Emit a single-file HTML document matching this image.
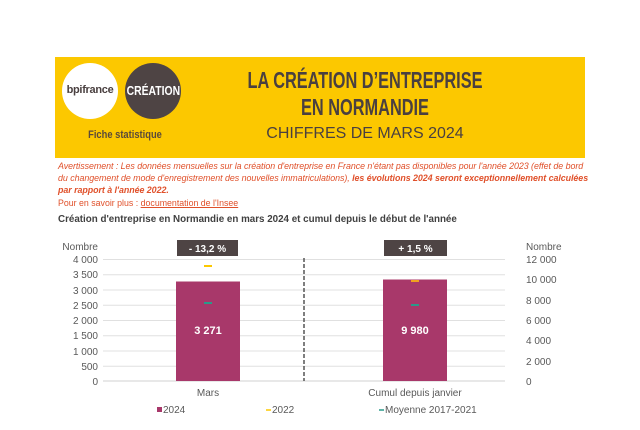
<!DOCTYPE html>
<html><head><meta charset="utf-8"><style>
body{margin:0;width:640px;height:430px;background:#fff;font-family:"Liberation Sans",sans-serif;position:relative;overflow:hidden}
.a{position:absolute;white-space:nowrap}
.cond{font-family:"Liberation Sans Narrow","Liberation Sans",sans-serif;font-weight:bold;transform-origin:center}
</style></head><body>
<div class="a" style="left:55px;top:57px;width:530px;height:101px;background:#fcc800"></div>
<div class="a" style="left:62px;top:63px;width:56px;height:56px;border-radius:50%;background:#fff"></div>
<div class="a" style="left:62px;top:84px;width:56px;text-align:center;font-size:11px;font-weight:bold;color:#4a4040;letter-spacing:-0.3px">bpifrance</div>
<div class="a" style="left:125px;top:63px;width:56px;height:56px;border-radius:50%;background:#4e4444"></div>
<div class="a cond" style="left:120px;top:83px;width:66px;text-align:center;font-size:13px;color:#fff;transform:scaleX(0.8)">CRÉATION</div>
<div class="a cond" style="left:70px;top:129px;width:110px;text-align:center;font-size:11px;color:#5a4a3a;transform:scaleX(0.85)">Fiche statistique</div>
<div class="a cond" style="left:165px;top:67px;width:400px;text-align:center;font-size:23px;color:#4a4040;transform:scaleX(0.71);line-height:27px">LA CRÉATION D’ENTREPRISE<br>EN NORMANDIE</div>
<div class="a" style="left:200px;top:125px;width:330px;text-align:center;font-size:16px;color:#4a4040">CHIFFRES DE MARS 2024</div>
<div class="a" style="left:58px;top:160px;width:532px;font-size:8.9px;line-height:12px;color:#e0502a;font-style:italic;white-space:normal;letter-spacing:-0.05px">Avertissement : Les données mensuelles sur la création d'entreprise en France n'étant pas disponibles pour l'année 2023 (effet de bord du changement de mode d'enregistrement des nouvelles immatriculations), <b>les évolutions 2024 seront exceptionnellement calculées par rapport à l'année 2022.</b></div>
<div class="a" style="left:58px;top:198px;font-size:8.8px;color:#e0502a">Pour en savoir plus : <u>documentation de l'Insee</u></div>
<div class="a" style="left:58px;top:214px;font-size:9.8px;font-weight:bold;color:#404040">Création d'entreprise en Normandie en mars 2024 et cumul depuis le début de l'année</div>
<svg class="a" style="left:0;top:0" width="640" height="430" font-family="Liberation Sans, sans-serif" font-size="10" fill="#595959">
<g stroke="#e0e0e0" stroke-width="1">
<line x1="103" x2="505" y1="259.5" y2="259.5"/><line x1="103" x2="505" y1="290" y2="290"/><line x1="103" x2="505" y1="320.5" y2="320.5"/><line x1="103" x2="505" y1="351" y2="351"/>
<line x1="103" x2="505" y1="274.75" y2="274.75"/><line x1="103" x2="505" y1="305.25" y2="305.25"/><line x1="103" x2="505" y1="335.75" y2="335.75"/><line x1="103" x2="505" y1="366.25" y2="366.25"/>
<line x1="103" x2="505" y1="381" y2="381" stroke="#d0d0d0"/></g>
<g text-anchor="end">
<text x="98" y="250">Nombre</text>
<text x="98" y="263">4 000</text><text x="98" y="278">3 500</text><text x="98" y="294">3 000</text><text x="98" y="309">2 500</text><text x="98" y="324">2 000</text><text x="98" y="339">1 500</text><text x="98" y="355">1 000</text><text x="98" y="370">500</text><text x="98" y="385">0</text></g>
<g>
<text x="526" y="250">Nombre</text>
<text x="526" y="263">12 000</text><text x="526" y="283">10 000</text><text x="526" y="304">8 000</text><text x="526" y="324">6 000</text><text x="526" y="344">4 000</text><text x="526" y="365">2 000</text><text x="526" y="385">0</text></g>
<rect x="176" y="281.5" width="64" height="99.5" fill="#a8386a"/>
<rect x="383" y="279.5" width="64" height="101.5" fill="#a8386a"/>
<line x1="304" x2="304" y1="258" y2="381" stroke="#555" stroke-width="1.5" stroke-dasharray="4,2"/>
<rect x="177" y="240" width="61" height="16" fill="#4e4444"/><text x="207.5" y="252" text-anchor="middle" fill="#fff" font-weight="bold">- 13,2 %</text>
<rect x="384" y="240" width="63" height="16" fill="#4e4444"/><text x="415.5" y="252" text-anchor="middle" fill="#fff" font-weight="bold">+ 1,5 %</text>
<line x1="204" x2="212" y1="266" y2="266" stroke="#fcc800" stroke-width="2"/>
<line x1="204" x2="212" y1="303" y2="303" stroke="#2a9a8a" stroke-width="2"/>
<line x1="411" x2="419" y1="281" y2="281" stroke="#f0a020" stroke-width="2"/>
<line x1="411" x2="419" y1="305" y2="305" stroke="#2a9a8a" stroke-width="2"/>
<text x="208" y="334" text-anchor="middle" fill="#fff" font-weight="bold" font-size="11">3 271</text>
<text x="415" y="334" text-anchor="middle" fill="#fff" font-weight="bold" font-size="11">9 980</text>
<text x="208" y="396" text-anchor="middle">Mars</text>
<text x="415" y="396" text-anchor="middle">Cumul depuis janvier</text>
<rect x="157" y="407" width="5" height="5" fill="#a8386a"/><text x="163" y="413">2024</text>
<line x1="266" x2="271" y1="410" y2="410" stroke="#fcc800" stroke-width="1.5"/><text x="272" y="413">2022</text>
<line x1="379" x2="384" y1="410" y2="410" stroke="#2a9a8a" stroke-width="1.5"/><text x="385" y="413">Moyenne 2017-2021</text>
</svg>
</body></html>
